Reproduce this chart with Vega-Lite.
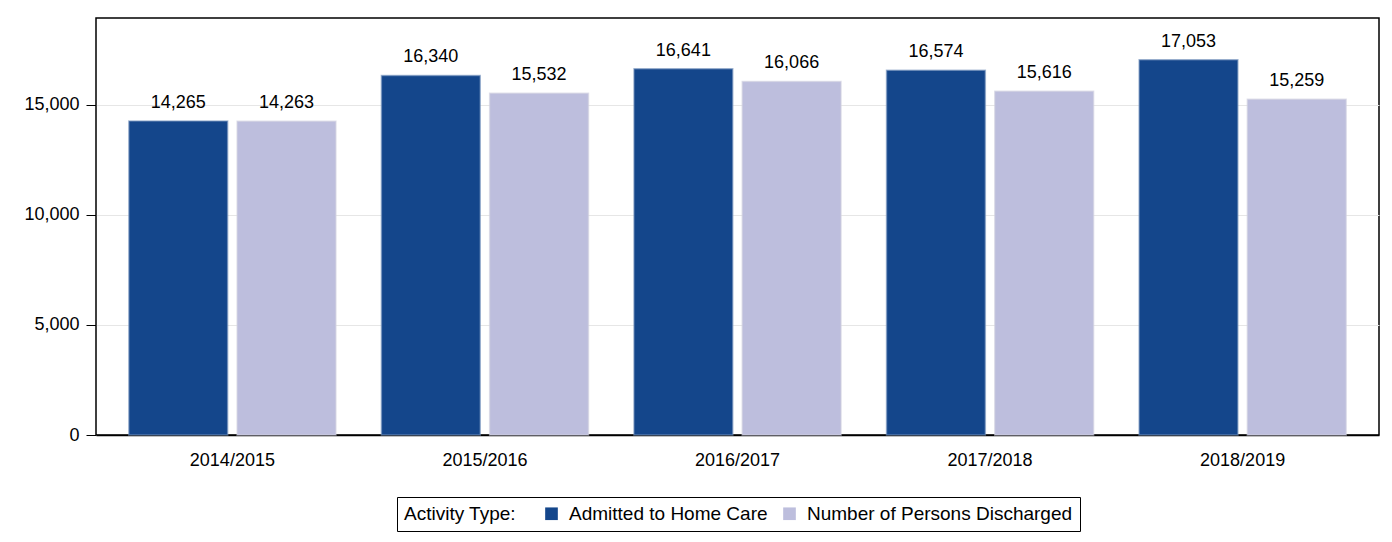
{
  "$schema": "https://vega.github.io/schema/vega-lite/v6.json",
  "autosize": {"type": "none"},
  "width": 1283,
  "height": 417,
  "padding": {"left": 96, "top": 18, "right": 13, "bottom": 107},
  "background": "#ffffff",
  "config": {
    "font": "Liberation Sans",
    "view": {"stroke": "#000000", "strokeWidth": 1.5},
    "axis": {"labelFont": "Liberation Sans", "labelFontSize": 18, "labelColor": "#000000", "titleFont": "Liberation Sans"},
    "legend": {"labelFont": "Liberation Sans", "titleFont": "Liberation Sans"}
  },
  "data": {
    "values": [
      {"year": "2014/2015", "type": "Admitted to Home Care", "value": 14265},
      {"year": "2014/2015", "type": "Number of Persons Discharged", "value": 14263},
      {"year": "2015/2016", "type": "Admitted to Home Care", "value": 16340},
      {"year": "2015/2016", "type": "Number of Persons Discharged", "value": 15532},
      {"year": "2016/2017", "type": "Admitted to Home Care", "value": 16641},
      {"year": "2016/2017", "type": "Number of Persons Discharged", "value": 16066},
      {"year": "2017/2018", "type": "Admitted to Home Care", "value": 16574},
      {"year": "2017/2018", "type": "Number of Persons Discharged", "value": 15616},
      {"year": "2018/2019", "type": "Admitted to Home Care", "value": 17053},
      {"year": "2018/2019", "type": "Number of Persons Discharged", "value": 15259}
    ]
  },
  "encoding": {
    "x": {
      "field": "year", "type": "nominal", "title": null,
      "scale": {"paddingInner": 0.18, "paddingOuter": 0.13},
      "axis": {"labelAngle": 0, "ticks": false, "tickSize": 0, "labelPadding": 16, "domain": true, "domainColor": "#000000", "domainWidth": 1.5, "grid": false}
    },
    "xOffset": {"field": "type", "type": "nominal", "scale": {"paddingInner": 0.087, "paddingOuter": 0}},
    "y": {
      "field": "value", "type": "quantitative", "title": null,
      "scale": {"domain": [0, 18950], "nice": false},
      "axis": {"values": [0, 5000, 10000, 15000], "format": ",d", "tickSize": 10, "tickColor": "#000000", "labelPadding": 7, "domain": false, "grid": true, "gridColor": "#e6e6e6", "gridWidth": 1}
    }
  },
  "layer": [
    {
      "mark": {"type": "bar", "strokeWidth": 1.5, "strokeOpacity": 0.6},
      "encoding": {
        "color": {
          "field": "type", "type": "nominal",
          "scale": {"domain": ["Admitted to Home Care", "Number of Persons Discharged"], "range": ["#14468b", "#bdbedd"]},
          "legend": {
            "title": "Activity Type:",
            "orient": "none",
            "legendX": 301,
            "legendY": 479,
            "direction": "horizontal",
            "titleOrient": "left",
            "titleFontSize": 19,
            "titleFontWeight": "normal",
            "titleColor": "#000000",
            "titleBaseline": "middle",
            "titlePadding": 26,
            "titleLimit": 0,
            "labelFontSize": 19,
            "labelColor": "#000000",
            "labelLimit": 0,
            "labelOffset": 8,
            "columnPadding": 12,
            "symbolType": "square",
            "symbolSize": 160,
            "symbolStrokeWidth": 0,
            "symbolOpacity": 1,
            "strokeColor": "#000000",
            "padding": 7
          }
        },
        "stroke": {
          "field": "type", "type": "nominal",
          "scale": {"domain": ["Admitted to Home Care", "Number of Persons Discharged"], "range": ["#7c98c0", "#d0d0e0"]},
          "legend": null
        }
      }
    },
    {
      "mark": {"type": "text", "baseline": "alphabetic", "dy": -13, "fontSize": 18, "color": "#000000"},
      "encoding": {
        "text": {"field": "value", "type": "quantitative", "format": ",d"}
      }
    }
  ]
}
